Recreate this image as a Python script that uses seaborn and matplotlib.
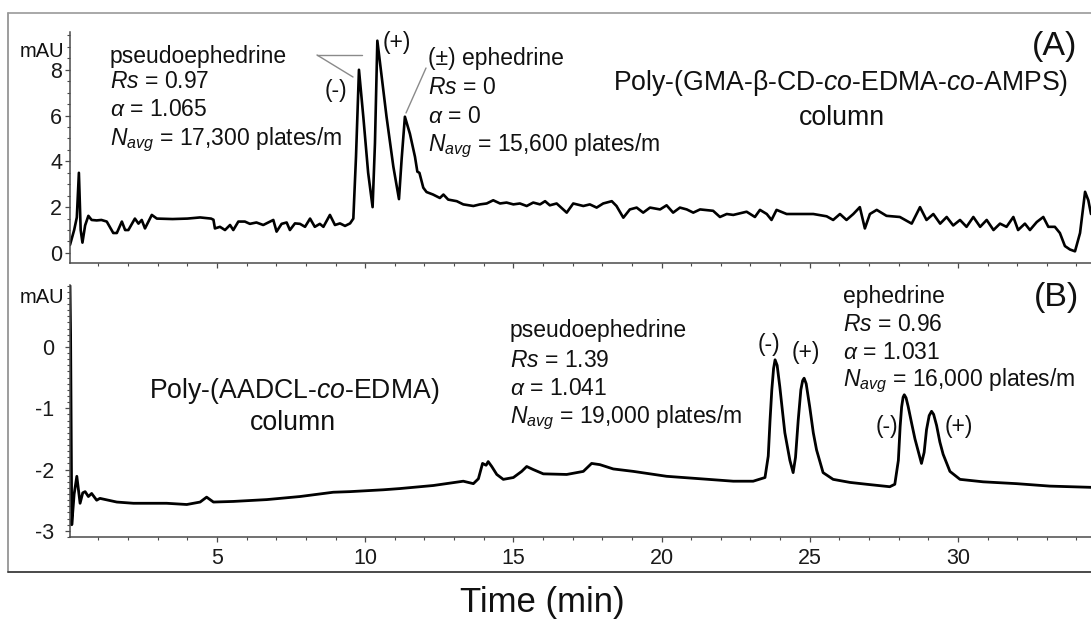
import numpy as np
import pandas as pd
import matplotlib
matplotlib.use("Agg")
import matplotlib.pyplot as plt
from matplotlib.lines import Line2D
from matplotlib.ticker import MultipleLocator
import seaborn as sns

# ---------------- data ----------------
top_time = [0.04, 0.18, 0.27, 0.34, 0.40, 0.46, 0.55, 0.66, 0.77, 0.94, 1.10, 1.28, 1.50, 1.62, 1.79,
            1.90, 2.01, 2.23, 2.35, 2.46, 2.57, 2.80, 2.97, 3.50, 4.00, 4.43, 4.80, 4.88, 4.93, 5.10,
            5.27, 5.44, 5.55, 5.72, 5.94, 6.11, 6.33, 6.56, 6.73, 6.90, 7.01, 7.18, 7.35, 7.46, 7.63,
            7.80, 7.97, 8.14, 8.30, 8.47, 8.59, 8.81, 8.98, 9.15, 9.32, 9.49, 9.60, 9.69, 9.79, 9.94,
            10.10, 10.25, 10.33, 10.41, 10.72, 10.95, 11.14, 11.23, 11.34, 11.51, 11.68, 11.76, 11.83,
            11.96, 12.07, 12.29, 12.52, 12.64, 12.80, 13.09, 13.31, 13.65, 13.87, 14.10, 14.32, 14.55,
            14.77, 15.00, 15.22, 15.45, 15.67, 15.90, 16.07, 16.23, 16.46, 16.80, 17.02, 17.36, 17.58,
            17.81, 18.03, 18.32, 18.48, 18.71, 18.93, 19.16, 19.38, 19.61, 19.95, 20.17, 20.39, 20.62,
            20.85, 21.07, 21.30, 21.74, 21.97, 22.20, 22.42, 22.87, 23.15, 23.32, 23.55, 23.71, 23.88,
            24.22, 24.67, 25.12, 25.57, 25.79, 26.02, 26.24, 26.47, 26.69, 26.86, 27.03, 27.26, 27.59,
            28.04, 28.44, 28.72, 28.94, 29.17, 29.40, 29.62, 29.84, 30.07, 30.29, 30.52, 30.75, 30.97,
            31.20, 31.42, 31.64, 31.87, 32.03, 32.26, 32.43, 32.66, 32.88, 33.05, 33.27, 33.44, 33.61,
            33.78, 33.95, 34.12, 34.29, 34.40, 34.49]
top_mau = [0.35, 1.00, 1.55, 3.50, 1.00, 0.45, 1.20, 1.62, 1.44, 1.42, 1.44, 1.37, 0.87, 0.87, 1.37,
           1.00, 1.00, 1.50, 1.28, 1.44, 1.07, 1.66, 1.50, 1.48, 1.50, 1.55, 1.50, 1.45, 1.07, 1.14,
           1.00, 1.22, 1.00, 1.37, 1.37, 1.27, 1.33, 1.22, 1.33, 1.44, 0.93, 1.27, 1.33, 1.00, 1.29,
           1.27, 1.14, 1.50, 1.14, 1.27, 1.14, 1.66, 1.22, 1.29, 1.18, 1.29, 1.50, 4.20, 8.00, 5.90,
           3.50, 2.00, 4.80, 9.27, 5.95, 3.77, 2.35, 4.10, 5.95, 5.20, 4.20, 3.55, 3.50,
           2.85, 2.66, 2.55, 2.40, 2.55, 2.33, 2.26, 2.12, 2.05, 2.12, 2.16, 2.30, 2.16,
           2.20, 2.12, 2.16, 2.05, 2.20, 2.12, 2.26, 2.08, 2.16, 1.76, 2.16, 2.05, 2.12,
           1.98, 2.16, 2.26, 2.05, 1.54, 1.90, 1.98, 1.76, 1.98, 1.90, 2.08, 1.76, 1.98,
           1.90, 1.76, 1.90, 1.84, 1.57, 1.70, 1.66, 1.80, 1.57, 1.88, 1.70, 1.44, 1.88,
           1.70, 1.70, 1.70, 1.60, 1.44, 1.70, 1.44, 1.70, 2.00, 1.07, 1.70, 1.88, 1.62,
           1.57, 1.28, 2.00, 1.44, 1.70, 1.28, 1.57, 1.20, 1.44, 1.14, 1.57, 1.14, 1.44,
           1.00, 1.28, 1.14, 1.57, 1.00, 1.28, 1.00, 1.35, 1.57, 1.14, 1.14, 0.87, 0.30,
           0.15, 0.07, 0.87, 2.67, 2.30, 1.70]

bot_time = [0.04, 0.06, 0.10, 0.18, 0.27, 0.38, 0.47, 0.55, 0.66, 0.77, 0.94, 1.05, 1.62, 2.18, 3.30,
            3.98, 4.43, 4.65, 4.88, 5.55, 6.68, 7.80, 8.92, 9.49, 10.61, 11.17, 12.30, 13.31, 13.65,
            13.82, 13.96, 14.08, 14.15, 14.27, 14.44, 14.66, 15.00, 15.28, 15.45, 15.67, 16.01, 16.80,
            17.36, 17.64, 17.92, 18.37, 19.05, 20.17, 21.30, 22.42, 23.09, 23.49, 23.60, 23.66, 23.72,
            23.78, 23.83, 23.90, 23.99, 24.08, 24.16, 24.33, 24.44, 24.52, 24.61, 24.70, 24.76, 24.81,
            24.88, 25.00, 25.12, 25.23, 25.45, 25.79, 26.36, 26.92, 27.70, 27.87, 27.99, 28.05, 28.10,
            28.15, 28.19, 28.25, 28.32, 28.44, 28.55, 28.77, 28.86, 28.94, 29.03, 29.11, 29.18, 29.28,
            29.39, 29.50, 29.73, 30.07, 30.85, 31.98, 33.10, 34.49]
bot_mau = [1.00, 0.20, -2.90, -2.40, -2.11, -2.55, -2.38, -2.36, -2.44, -2.39, -2.50, -2.47, -2.53,
           -2.55, -2.55, -2.57, -2.53, -2.45, -2.53, -2.52, -2.49, -2.44, -2.37, -2.36, -2.33, -2.31,
           -2.26, -2.19, -2.23, -2.15, -1.90, -1.93, -1.87, -1.95, -2.08, -2.16, -2.13, -2.03, -1.95,
           -2.00, -2.07, -2.08, -2.03, -1.90, -1.92, -1.99, -2.03, -2.11, -2.15, -2.19, -2.19, -2.13,
           -1.78, -1.20, -0.70, -0.35, -0.21, -0.30, -0.65, -1.05, -1.40, -1.85, -2.05, -1.80, -1.20,
           -0.70, -0.55, -0.51, -0.60, -0.98, -1.40, -1.68, -2.05, -2.16, -2.21, -2.24, -2.28, -2.24,
           -1.85, -1.30, -0.98, -0.82, -0.78, -0.83, -0.97, -1.25, -1.50, -1.90, -1.72, -1.35, -1.12,
           -1.05, -1.10, -1.28, -1.55, -1.75, -2.03, -2.16, -2.20, -2.23, -2.27, -2.29]

top_yticks = [0, 2, 4, 6, 8]
bot_yticks = [-3, -2, -1, 0]
x_ticks = [5, 10, 15, 20, 25, 30]

# ---------------- style ----------------
sns.set_theme(style="ticks")
plt.rcParams["font.family"] = ["Liberation Sans", "DejaVu Sans"]
plt.rcParams["mathtext.fontset"] = "custom"
plt.rcParams["mathtext.rm"] = "Liberation Sans"
plt.rcParams["mathtext.it"] = "Liberation Sans:italic"
plt.rcParams["mathtext.bf"] = "Liberation Sans:bold"
plt.rcParams["axes.unicode_minus"] = False

W, H = 1091, 619
fig = plt.figure(figsize=(W / 100, H / 100), dpi=100)
fig.patch.set_facecolor("white")


def fx(x):
    return x / W


def fy(y):
    return 1 - y / H


ax_top = fig.add_axes([fx(70), fy(263), (W - 70) / W, (263 - 32) / H])
ax_bot = fig.add_axes([fx(70), fy(537), (W - 70) / W, (537 - 285) / H])

df_top = pd.DataFrame({"time": top_time, "mAU": top_mau})
df_bot = pd.DataFrame({"time": bot_time, "mAU": bot_mau})

sns.lineplot(data=df_top, x="time", y="mAU", ax=ax_top, color="black", lw=1.9,
             estimator=None, sort=True)
sns.lineplot(data=df_bot, x="time", y="mAU", ax=ax_bot, color="black", lw=2.0,
             estimator=None, sort=True)

spine_col = "#4a4a4a"
for ax in (ax_top, ax_bot):
    ax.set_facecolor("white")
    ax.set_xlim(0.04, 34.49)
    ax.set_xlabel("")
    ax.set_ylabel("")
    for s in ("top", "right"):
        ax.spines[s].set_visible(False)
    for s in ("left", "bottom"):
        ax.spines[s].set_color(spine_col)
        ax.spines[s].set_linewidth(1.1)
    ax.xaxis.set_major_locator(MultipleLocator(5))
    ax.xaxis.set_minor_locator(MultipleLocator(1))
    ax.tick_params(axis="both", which="major", direction="out", length=3.6, width=0.9,
                   color=spine_col, labelsize=15.5, labelcolor="#1a1a1a")
    ax.tick_params(axis="both", which="minor", direction="out", length=2.2, width=0.8,
                   color=spine_col)
    ax.grid(False)

ax_top.set_ylim(-0.44, 9.65)
ax_top.set_yticks(top_yticks)
ax_top.yaxis.set_minor_locator(MultipleLocator(0.5))
ax_top.tick_params(axis="y", which="major", pad=2.0)
ax_top.tick_params(axis="x", which="both", labelbottom=False)

ax_bot.set_ylim(-3.10, 1.01)
ax_bot.set_yticks(bot_yticks)
ax_bot.yaxis.set_minor_locator(MultipleLocator(0.1))
ax_bot.set_xticks(x_ticks)
ax_bot.tick_params(axis="y", which="major", pad=8)
ax_bot.tick_params(axis="x", which="major", pad=4.0)

# ---------------- outer frame ----------------
fig.add_artist(Line2D([fx(8), fx(8)], [fy(13), fy(572)], transform=fig.transFigure,
                      color="#8c8c8c", lw=1.2))
fig.add_artist(Line2D([fx(8), 1.0], [fy(13), fy(13)], transform=fig.transFigure,
                      color="#9a9a9a", lw=1.2))
fig.add_artist(Line2D([fx(8), 1.0], [fy(572), fy(572)], transform=fig.transFigure,
                      color="#3c3c3c", lw=1.3))

# ---------------- texts ----------------
TXT = "#111111"
ann = 16.5


def t(x, y, s, size=ann, ha="left", va="baseline", **kw):
    fig.text(fx(x), fy(y), s, fontsize=size, ha=ha, va=va, color=TXT, **kw)


# mAU labels
t(64, 57, "mAU", size=14.5, ha="right")
t(64, 303, "mAU", size=14.5, ha="right")

# panel A
t(110, 63, "pseudoephedrine")
t(110, 88, r"$Rs$ = 0.97")
t(110, 116, r"$\alpha$ = 1.065")
t(110, 145, r"$N_{avg}$ = 17,300 plates/m")
t(428, 65, "(±) ephedrine")
t(428, 94, r"$Rs$ = 0")
t(428, 123, r"$\alpha$ = 0")
t(428, 151, r"$N_{avg}$ = 15,600 plates/m")
t(336, 91, "(-)", ha="center", va="center")
t(397, 43, "(+)", ha="center", va="center")
t(841, 90, r"Poly-(GMA-β-CD-$co$-EDMA-$co$-AMPS)", size=19.2, ha="center")
t(842, 125, "column", size=19.2, ha="center")
t(1055, 46, "(A)", size=24.5, ha="center", va="center")

# leader lines panel A
for (x0, y0, x1, y1) in [(317, 55, 362, 55), (317, 55, 353, 77), (426, 68, 406, 113)]:
    fig.add_artist(Line2D([fx(x0), fx(x1)], [fy(y0), fy(y1)], transform=fig.transFigure,
                          color="#8a8a8a", lw=1.0))

# panel B
t(294, 398, r"Poly-(AADCL-$co$-EDMA)", size=19.2, ha="center")
t(293, 430, "column", size=19.2, ha="center")
t(510, 337, "pseudoephedrine")
t(510, 367, r"$Rs$ = 1.39")
t(510, 395, r"$\alpha$ = 1.041")
t(510, 423, r"$N_{avg}$ = 19,000 plates/m")
t(769, 344, "(-)", ha="center", va="center")
t(806, 352, "(+)", ha="center", va="center")
t(843, 303, "ephedrine")
t(843, 331, r"$Rs$ = 0.96")
t(843, 359, r"$\alpha$ = 1.031")
t(843, 386, r"$N_{avg}$ = 16,000 plates/m")
t(887, 426, "(-)", ha="center", va="center")
t(959, 427, "(+)", ha="center", va="center")
t(1056, 298, "(B)", size=24.5, ha="center", va="center")

# x label
t(542, 612, "Time (min)", size=25, ha="center")

fig.savefig("out.png", dpi=100, facecolor="white")
